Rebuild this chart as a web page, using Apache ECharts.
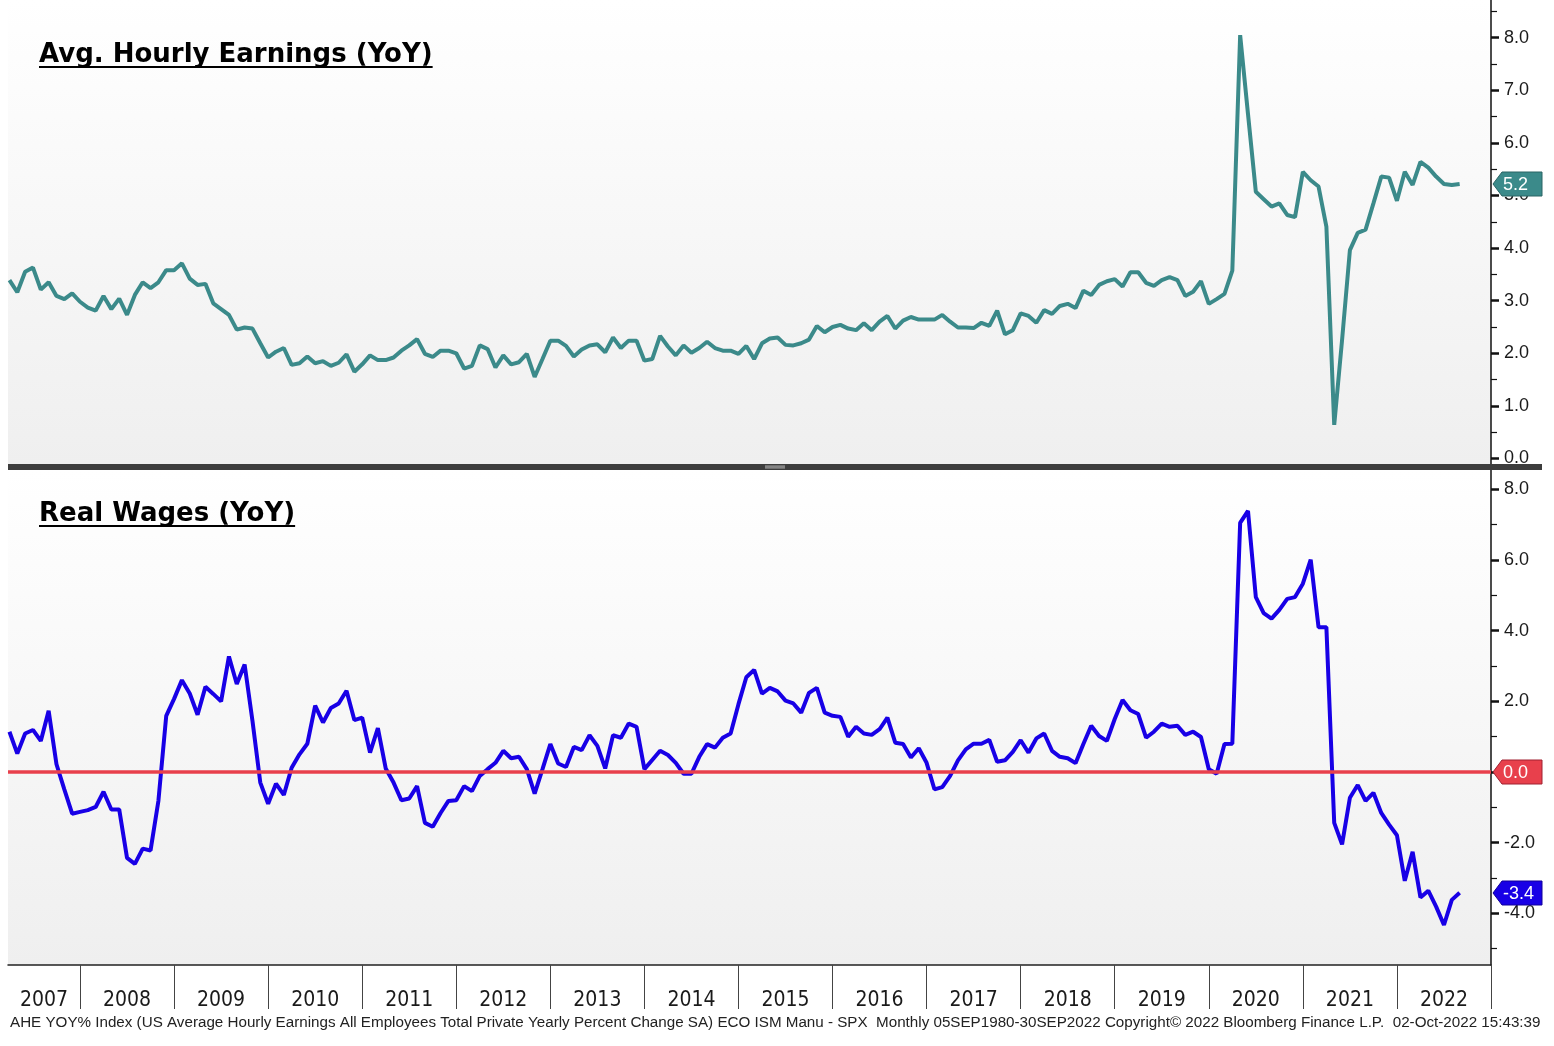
<!DOCTYPE html>
<html>
<head>
<meta charset="utf-8">
<script src="https://cdn.jsdelivr.net/npm/echarts/dist/echarts.min.js"></script>
<style>
  html, body { margin: 0; padding: 0; background: #ffffff; }
  #main { width: 1554px; height: 1046px; }
</style>
</head>
<body>
<div id="main"></div>
<script>
// month index of first point: Mar 2007 (months counted from Dec 2006, month-end)
var firstMonth = 3;

// AHE YoY %, Mar 2007 .. Aug 2022
var aheYoy = [
  3.39, 3.16, 3.55, 3.63, 3.21, 3.35, 3.09, 3.03, 3.14, 2.98,
  2.87, 2.81, 3.09, 2.84, 3.04, 2.73, 3.11, 3.35, 3.24, 3.35,
  3.58, 3.58, 3.71, 3.42, 3.30, 3.32, 2.95, 2.84, 2.73, 2.45,
  2.49, 2.47, 2.19, 1.92, 2.03, 2.10, 1.78, 1.81, 1.94, 1.81,
  1.85, 1.76, 1.82, 1.98, 1.65, 1.79, 1.96, 1.87, 1.87, 1.92,
  2.05, 2.15,
  2.27, 1.99, 1.93, 2.05, 2.05, 2.00, 1.71, 1.76, 2.15, 2.08,
  1.73, 1.96, 1.79, 1.83, 1.99, 1.55, 1.89, 2.24, 2.24, 2.14,
  1.94, 2.07, 2.15, 2.17, 2.02, 2.30, 2.10, 2.24, 2.24, 1.86,
  1.89, 2.33, 2.13, 1.96, 2.15, 2.01, 2.10, 2.22, 2.10, 2.05,
  2.05, 1.99, 2.14, 1.89, 2.19, 2.28, 2.30, 2.16, 2.15, 2.19,
  2.26, 2.52, 2.40, 2.50,
  2.54, 2.47, 2.44, 2.57, 2.44, 2.60, 2.71, 2.47, 2.62, 2.69,
  2.64, 2.64, 2.64, 2.73, 2.60, 2.49, 2.49, 2.48, 2.58, 2.52,
  2.81, 2.36, 2.44, 2.76, 2.71, 2.58, 2.82, 2.75, 2.90, 2.94,
  2.86, 3.19, 3.11, 3.30, 3.37, 3.41, 3.27, 3.54, 3.54, 3.34,
  3.28, 3.39, 3.45, 3.39, 3.09, 3.17, 3.37, 2.94, 3.03, 3.13,
  3.57,
  8.05, 6.55, 5.07, 4.93, 4.79, 4.85, 4.63, 4.59, 5.45, 5.29,
  5.17, 4.41, 0.64, 2.25, 3.96, 4.29, 4.35, 4.85, 5.36, 5.34,
  4.90, 5.45, 5.20, 5.64, 5.53, 5.36, 5.22, 5.20, 5.22
];

// Real wages YoY %, Mar 2007 .. Aug 2022
var realWages = [
  1.14, 0.52, 1.09, 1.19, 0.88, 1.73, 0.22, -0.49, -1.18, -1.13,
  -1.08, -0.99, -0.56, -1.06, -1.06, -2.43, -2.60, -2.17, -2.22, -0.82,
  1.59, 2.07, 2.60, 2.22, 1.62, 2.41, 2.21, 2.00, 3.27, 2.49,
  3.04, 1.45, -0.30, -0.90, -0.33, -0.65, 0.12, 0.50, 0.80, 1.88,
  1.40, 1.81, 1.94, 2.30, 1.47, 1.54, 0.55, 1.24, 0.10, -0.30,
  -0.80,
  -0.75, -0.40, -1.44, -1.55, -1.16, -0.82, -0.80, -0.40, -0.54, -0.11,
  0.08, 0.26, 0.60, 0.39, 0.43, 0.08, -0.61, 0.08, 0.79, 0.24,
  0.14, 0.71, 0.62, 1.04, 0.74, 0.10, 1.04, 0.97, 1.37, 1.28,
  0.08, 0.34, 0.60, 0.48, 0.26, -0.05, -0.05, 0.43, 0.79, 0.69,
  0.97, 1.09, 1.92, 2.68, 2.89, 2.22, 2.38, 2.28, 2.02, 1.94,
  1.68, 2.24, 2.38, 1.68, 1.59,
  1.56, 1.00, 1.28, 1.09, 1.05, 1.21, 1.54, 0.83, 0.79, 0.41,
  0.67, 0.26, -0.49, -0.43, -0.11, 0.33, 0.64, 0.80, 0.80, 0.91,
  0.29, 0.33, 0.57, 0.90, 0.55, 0.95, 1.09, 0.60, 0.43, 0.39,
  0.25, 0.79, 1.31, 1.02, 0.88, 1.50, 2.04, 1.75, 1.64, 0.97,
  1.14, 1.37, 1.28, 1.31, 1.05, 1.14, 0.99, 0.08, -0.05,
  0.79, 0.80,
  7.05, 7.39, 4.95, 4.50, 4.34, 4.59, 4.90, 4.95, 5.33, 6.01,
  4.10, 4.10, -1.44, -2.05, -0.73, -0.37, -0.82, -0.59, -1.16, -1.49,
  -1.79, -3.08, -2.26, -3.55, -3.36, -3.81, -4.33, -3.62, -3.42
];

var yearLabels = ['2007', '2008', '2009', '2010', '2011', '2012', '2013', '2014',
  '2015', '2016', '2017', '2018', '2019', '2020', '2021', '2022'];
var aheTicks = [0, 1, 2, 3, 4, 5, 6, 7, 8];
var aheMinorTicks = [0.5, 1.5, 2.5, 3.5, 4.5, 5.5, 6.5, 7.5, 8.5];
var realTicks = [-4, -2, 0, 2, 4, 6, 8];
var realMinorTicks = [-5, -3, -1, 1, 3, 5, 7];

var titleTop = 'Avg. Hourly Earnings (YoY)';
var titleBottom = 'Real Wages (YoY)';
var footer = 'AHE YOY% Index (US Average Hourly Earnings All Employees Total Private Yearly Percent Change SA) ECO ISM Manu - SPX  Monthly 05SEP1980-30SEP2022 Copyright\u00a9 2022 Bloomberg Finance L.P.  02-Oct-2022 15:43:39';

var teal = '#3b8a8a';
var blue = '#1800e6';
var red = '#e8404c';
var narrowFont = "'Liberation Sans Narrow', 'DejaVu Sans Condensed', 'Liberation Sans', sans-serif";

// x axis: months, year boundaries every 12
var xMin = 2.815, xMax = 192;
var yearEnds = [];
for (var i = 1; i <= yearLabels.length; i++) yearEnds.push(i * 12);
var yearMid = [];
for (var i = 0; i < yearLabels.length; i++) {
  var a = Math.max(i * 12, xMin), b = (i + 1) * 12;
  yearMid.push((a + b) / 2);
}

function toPairs(arr) {
  var out = [];
  for (var i = 0; i < arr.length; i++) out.push([firstMonth + i, arr[i]]);
  return out;
}

function bg() {
  return new echarts.graphic.LinearGradient(0, 0, 0, 1, [
    { offset: 0, color: '#ffffff' },
    { offset: 1, color: '#efefef' }
  ]);
}

function mainY(grid, min, max, ticks) {
  return {
    type: 'value', gridIndex: grid, position: 'right', min: min, max: max,
    axisLine: { show: true, onZero: false, lineStyle: { color: '#111', width: 1.5 } },
    axisTick: { show: true, customValues: ticks, length: 8, lineStyle: { color: '#111', width: 2.5 } },
    axisLabel: {
      show: true, customValues: ticks, margin: 13, color: '#1a1a1a',
      fontFamily: 'Liberation Sans', fontSize: 18,
      formatter: function (v) { return v.toFixed(1); }
    },
    splitLine: { show: false }
  };
}
function minorY(grid, min, max, ticks) {
  return {
    type: 'value', gridIndex: grid, position: 'right', min: min, max: max,
    axisLine: { show: false },
    axisTick: { show: true, customValues: ticks, length: 6, lineStyle: { color: '#111', width: 1.2 } },
    axisLabel: { show: false },
    splitLine: { show: false }
  };
}

var chart = echarts.init(document.getElementById('main'), null, { renderer: 'canvas' });

var option = {
  animation: false,
  backgroundColor: '#ffffff',
  grid: [
    { left: 8, top: 0, width: 1483, height: 464, show: true, borderWidth: 0, backgroundColor: bg() },
    { left: 8, top: 470, width: 1483, height: 495, show: true, borderWidth: 0, backgroundColor: bg() }
  ],
  xAxis: [
    { type: 'value', gridIndex: 0, min: xMin, max: xMax, show: false },
    {
      type: 'value', gridIndex: 1, min: xMin, max: xMax,
      axisLine: { show: true, onZero: false, lineStyle: { color: '#222', width: 1.5 } },
      axisTick: { show: true, customValues: yearEnds, length: 44, lineStyle: { color: '#444', width: 1 } },
      axisLabel: {
        show: true, customValues: yearMid, margin: 25, color: '#1a1a1a',
        fontFamily: narrowFont, fontSize: 21,
        formatter: function (v) { return yearLabels[Math.floor(v / 12)]; }
      },
      splitLine: { show: false }
    }
  ],
  yAxis: [
    mainY(0, -0.105, 8.717, aheTicks),
    minorY(0, -0.105, 8.717, aheMinorTicks),
    mainY(1, -5.463, 8.548, realTicks),
    minorY(1, -5.463, 8.548, realMinorTicks)
  ],
  series: [
    {
      name: 'AHE', type: 'line', xAxisIndex: 0, yAxisIndex: 0,
      data: toPairs(aheYoy), showSymbol: false, symbol: 'none',
      lineStyle: { color: teal, width: 4 }, itemStyle: { color: teal }
    },
    {
      name: 'Real Wages', type: 'line', xAxisIndex: 1, yAxisIndex: 2,
      data: toPairs(realWages), showSymbol: false, symbol: 'none',
      lineStyle: { color: blue, width: 4 }, itemStyle: { color: blue },
      markLine: {
        silent: true, symbol: 'none', label: { show: false },
        lineStyle: { color: red, width: 3.5, type: 'solid' },
        data: [{ yAxis: 0 }]
      }
    }
  ]
};
chart.setOption(option);

// overlays: titles, separator, value tags, footer
var ctx = document.createElement('canvas').getContext('2d');
var titleFont = 'bold 26px "DejaVu Sans"';
ctx.font = titleFont;

function title(txt, x, y) {
  var w = ctx.measureText(txt).width;
  return [
    { type: 'text', x: x, y: y, style: { text: txt, font: titleFont, fill: '#000', verticalAlign: 'middle' }, z: 10 },
    { type: 'rect', shape: { x: x, y: y + 11, width: w, height: 2 }, style: { fill: '#000' }, z: 10 }
  ];
}

function tag(yAxisIndex, value, txt, fill, stroke) {
  var y = Math.round(chart.convertToPixel({ yAxisIndex: yAxisIndex }, value));
  return [
    {
      type: 'polygon', z: 20,
      shape: { points: [[1493, y], [1502, y - 12], [1542, y - 12], [1542, y + 12], [1502, y + 12]] },
      style: { fill: fill, stroke: stroke, lineWidth: 1 }
    },
    {
      type: 'text', x: 1503, y: y + 1, z: 21,
      style: { text: txt, fill: '#ffffff', font: '18px "Liberation Sans"', verticalAlign: 'middle' }
    }
  ];
}

var lastAhe = aheYoy[aheYoy.length - 1];
var lastReal = realWages[realWages.length - 1];

var g = [];
g = g.concat(title(titleTop, 39, 55));
g = g.concat(title(titleBottom, 39, 514));
g.push({ type: 'rect', z: 15, shape: { x: 8, y: 464, width: 1534, height: 6 }, style: { fill: '#3d3d3d' } });
g.push({ type: 'rect', z: 16, shape: { x: 765, y: 465, width: 20, height: 4 }, style: { fill: '#6f6f6f' } });
g.push({ type: 'rect', z: 17, shape: { x: 765, y: 466.5, width: 20, height: 1 }, style: { fill: '#9a9a9a' } });
g = g.concat(tag(0, lastAhe, lastAhe.toFixed(1), teal, '#2a6464'));
g = g.concat(tag(2, 0, (0).toFixed(1), red, '#a02030'));
g = g.concat(tag(2, lastReal, lastReal.toFixed(1), blue, '#10009a'));
g.push({
  type: 'text', x: 10, y: 1023, z: 10,
  style: { text: footer, fill: '#222', font: '15.2px "Liberation Sans"', verticalAlign: 'middle' }
});

chart.setOption({ graphic: g });
</script>
</body>
</html>
